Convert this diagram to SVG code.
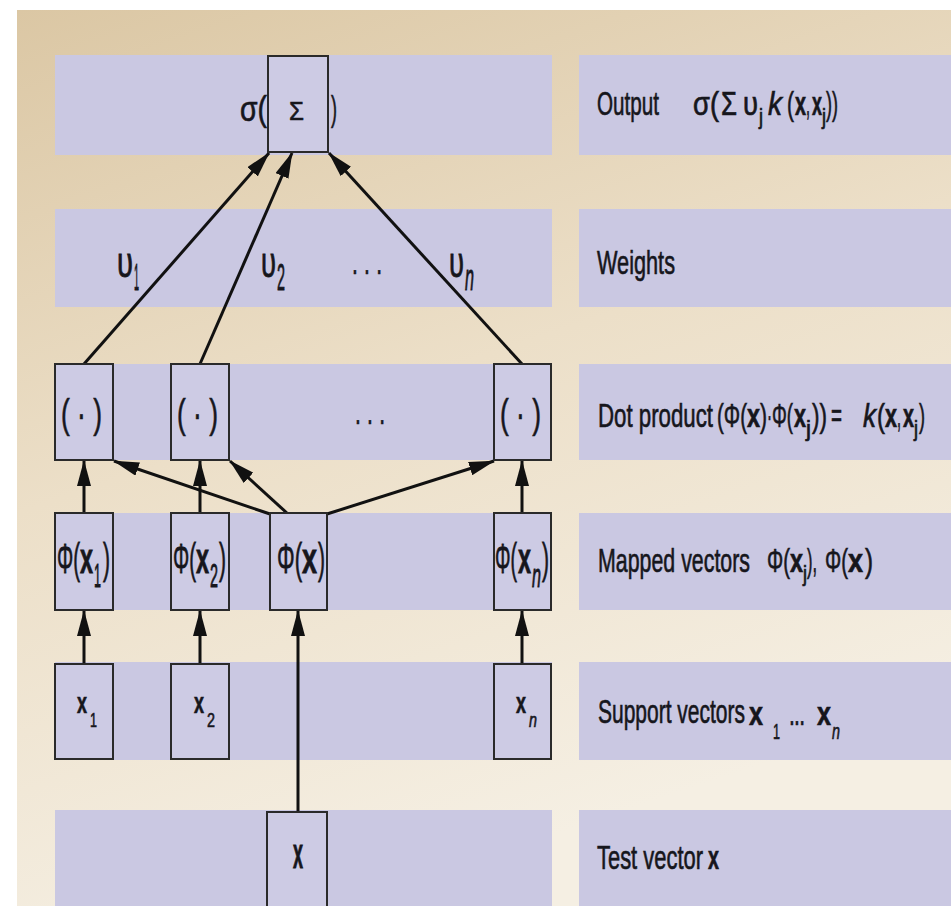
<svg xmlns="http://www.w3.org/2000/svg" width="951" height="906" viewBox="0 0 951 906">
<defs>
<linearGradient id="bg" x1="0" y1="0" x2="0.35" y2="1">
<stop offset="0" stop-color="#dbc7a4"/>
<stop offset="0.5" stop-color="#ecdfc8"/>
<stop offset="1" stop-color="#f5efe3"/>
</linearGradient>
<marker id="ah" markerWidth="26" markerHeight="14" refX="25" refY="7" orient="auto" markerUnits="userSpaceOnUse">
<path d="M0,0 L26,7 L0,14 z" fill="#111"/>
</marker>
<style>
.band{fill:#cac8e2}
.box{fill:#cdcbe4;stroke:#2a2a2a;stroke-width:2}
.t text{font-family:"Liberation Sans",Arial,sans-serif;fill:#16161c;stroke:#16161c;stroke-width:0.4}
.c line{stroke:#111;stroke-width:3;marker-end:url(#ah)}
.b{font-weight:bold}
.i{font-style:italic}
</style>
</defs>
<rect x="0" y="0" width="951" height="906" fill="#ffffff"/>
<rect x="17" y="10" width="934" height="896" fill="url(#bg)"/>
<g id="bands">
<rect class="band" x="55" y="55" width="497" height="100"/>
<rect class="band" x="55" y="209" width="497" height="98"/>
<rect class="band" x="55" y="364" width="497" height="96"/>
<rect class="band" x="55" y="513" width="497" height="97"/>
<rect class="band" x="55" y="662" width="497" height="98"/>
<rect class="band" x="55" y="810" width="497" height="96"/>
<rect class="band" x="579" y="55" width="372" height="100"/>
<rect class="band" x="579" y="209" width="372" height="98"/>
<rect class="band" x="579" y="364" width="372" height="96"/>
<rect class="band" x="579" y="513" width="372" height="97"/>
<rect class="band" x="579" y="662" width="372" height="98"/>
<rect class="band" x="579" y="810" width="372" height="96"/>
</g>
<g id="row-labels" class="t">
<text x="597" y="115" font-size="21" transform="matrix(1 0 0 1.6 0 -69)" textLength="62" lengthAdjust="spacingAndGlyphs">Output</text>
<text x="693" y="115" font-size="19" transform="matrix(1 0 0 1.75 0 -86.25)" textLength="26" lengthAdjust="spacingAndGlyphs">σ(</text>
<text x="721" y="115" font-size="19" transform="matrix(1 0 0 1.75 0 -86.25)" textLength="16" lengthAdjust="spacingAndGlyphs">Σ</text>
<text x="743" y="115" font-size="19" transform="matrix(1 0 0 1.75 0 -86.25)" textLength="15" lengthAdjust="spacingAndGlyphs">υ</text>
<text x="759" y="124" font-size="13" transform="matrix(1 0 0 1.75 0 -93)" textLength="4" lengthAdjust="spacingAndGlyphs">j</text>
<text x="768" y="115" font-size="19" class="i" transform="matrix(1 0 0 1.75 0 -86.25)" textLength="14" lengthAdjust="spacingAndGlyphs">k</text>
<text x="787" y="115" font-size="19" transform="matrix(1 0 0 1.75 0 -86.25)" textLength="7" lengthAdjust="spacingAndGlyphs">(</text>
<text x="795" y="115" font-size="19" class="b" transform="matrix(1 0 0 1.75 0 -86.25)" textLength="11" lengthAdjust="spacingAndGlyphs">x</text>
<text x="806" y="115" font-size="19" transform="matrix(1 0 0 1.75 0 -86.25)" textLength="4" lengthAdjust="spacingAndGlyphs">,</text>
<text x="812" y="115" font-size="19" class="b" transform="matrix(1 0 0 1.75 0 -86.25)" textLength="10" lengthAdjust="spacingAndGlyphs">x</text>
<text x="822" y="124" font-size="13" transform="matrix(1 0 0 1.75 0 -93)" textLength="4" lengthAdjust="spacingAndGlyphs">j</text>
<text x="826" y="115" font-size="19" transform="matrix(1 0 0 1.75 0 -86.25)" textLength="12" lengthAdjust="spacingAndGlyphs">))</text>

<text x="597" y="274" font-size="21" transform="matrix(1 0 0 1.6 0 -164.4)" textLength="78" lengthAdjust="spacingAndGlyphs">Weights</text>

<text x="598" y="427" font-size="21" transform="matrix(1 0 0 1.6 0 -256.2)" textLength="115" lengthAdjust="spacingAndGlyphs">Dot product</text>
<text x="717" y="427" font-size="19" transform="matrix(1 0 0 1.75 0 -320.25)" textLength="30" lengthAdjust="spacingAndGlyphs">(Φ(</text>
<text x="747" y="427" font-size="19" class="b" transform="matrix(1 0 0 1.75 0 -320.25)" textLength="13" lengthAdjust="spacingAndGlyphs">x</text>
<text x="760" y="427" font-size="19" transform="matrix(1 0 0 1.75 0 -320.25)" textLength="7" lengthAdjust="spacingAndGlyphs">)</text>
<text x="767" y="427" font-size="19" transform="matrix(1 0 0 1.75 0 -320.25)" textLength="5" lengthAdjust="spacingAndGlyphs">·</text>
<text x="772" y="427" font-size="19" transform="matrix(1 0 0 1.75 0 -320.25)" textLength="21" lengthAdjust="spacingAndGlyphs">Φ(</text>
<text x="794" y="427" font-size="19" class="b" transform="matrix(1 0 0 1.75 0 -320.25)" textLength="12" lengthAdjust="spacingAndGlyphs">x</text>
<text x="806" y="436" font-size="13" transform="matrix(1 0 0 1.75 0 -327)" textLength="5" lengthAdjust="spacingAndGlyphs">j</text>
<text x="812" y="427" font-size="19" transform="matrix(1 0 0 1.75 0 -320.25)" textLength="15" lengthAdjust="spacingAndGlyphs">))</text>
<text x="831" y="427" font-size="19" transform="matrix(1 0 0 1.75 0 -320.25)" textLength="11" lengthAdjust="spacingAndGlyphs">=</text>
<text x="863" y="427" font-size="19" class="i" transform="matrix(1 0 0 1.75 0 -320.25)" textLength="13" lengthAdjust="spacingAndGlyphs">k</text>
<text x="877" y="427" font-size="19" transform="matrix(1 0 0 1.75 0 -320.25)" textLength="8" lengthAdjust="spacingAndGlyphs">(</text>
<text x="885" y="427" font-size="19" class="b" transform="matrix(1 0 0 1.75 0 -320.25)" textLength="12" lengthAdjust="spacingAndGlyphs">x</text>
<text x="897" y="427" font-size="19" transform="matrix(1 0 0 1.75 0 -320.25)" textLength="4" lengthAdjust="spacingAndGlyphs">,</text>
<text x="903" y="427" font-size="19" class="b" transform="matrix(1 0 0 1.75 0 -320.25)" textLength="11" lengthAdjust="spacingAndGlyphs">x</text>
<text x="914" y="436" font-size="13" transform="matrix(1 0 0 1.75 0 -327)" textLength="4" lengthAdjust="spacingAndGlyphs">j</text>
<text x="919" y="427" font-size="19" transform="matrix(1 0 0 1.75 0 -320.25)" textLength="6" lengthAdjust="spacingAndGlyphs">)</text>

<text x="598" y="572" font-size="21" transform="matrix(1 0 0 1.6 0 -343.2)" textLength="152" lengthAdjust="spacingAndGlyphs">Mapped vectors</text>
<text x="767" y="572" font-size="19" transform="matrix(1 0 0 1.75 0 -429)" textLength="23" lengthAdjust="spacingAndGlyphs">Φ(</text>
<text x="790" y="572" font-size="19" class="b" transform="matrix(1 0 0 1.75 0 -429)" textLength="13" lengthAdjust="spacingAndGlyphs">x</text>
<text x="803" y="581" font-size="13" transform="matrix(1 0 0 1.75 0 -435.75)" textLength="4" lengthAdjust="spacingAndGlyphs">j</text>
<text x="807" y="572" font-size="19" transform="matrix(1 0 0 1.75 0 -429)" textLength="10" lengthAdjust="spacingAndGlyphs">),</text>
<text x="825" y="572" font-size="19" transform="matrix(1 0 0 1.75 0 -429)" textLength="23" lengthAdjust="spacingAndGlyphs">Φ(</text>
<text x="848" y="572" font-size="19" class="b" transform="matrix(1 0 0 1.75 0 -429)" textLength="15" lengthAdjust="spacingAndGlyphs">x</text>
<text x="865" y="572" font-size="19" transform="matrix(1 0 0 1.75 0 -429)" textLength="8" lengthAdjust="spacingAndGlyphs">)</text>

<text x="598" y="723" font-size="21" transform="matrix(1 0 0 1.6 0 -433.8)" textLength="147" lengthAdjust="spacingAndGlyphs">Support vectors</text>
<text x="749" y="725" font-size="21" class="b" transform="matrix(1 0 0 1.6 0 -435)" textLength="14" lengthAdjust="spacingAndGlyphs">x</text>
<text x="773" y="739" font-size="14" transform="matrix(1 0 0 1.6 0 -443.4)" textLength="7" lengthAdjust="spacingAndGlyphs">1</text>
<text x="789" y="725" font-size="21" transform="matrix(1 0 0 1.6 0 -435)" textLength="16" lengthAdjust="spacing">...</text>
<text x="817" y="725" font-size="21" class="b" transform="matrix(1 0 0 1.6 0 -435)" textLength="14" lengthAdjust="spacingAndGlyphs">x</text>
<text x="832" y="739" font-size="14" class="i" transform="matrix(1 0 0 1.6 0 -443.4)" textLength="8" lengthAdjust="spacingAndGlyphs">n</text>

<text x="597" y="869" font-size="21" transform="matrix(1 0 0 1.6 0 -521.4)" textLength="106" lengthAdjust="spacingAndGlyphs">Test vector</text>
<text x="708" y="869" font-size="21" class="b" transform="matrix(1 0 0 1.6 0 -521.4)" textLength="11" lengthAdjust="spacingAndGlyphs">x</text>
</g>
<g id="connectors" class="c">
<line x1="84" y1="364" x2="269" y2="153"/>
<line x1="200" y1="364" x2="292" y2="153"/>
<line x1="522" y1="364" x2="329" y2="153"/>
<line x1="84" y1="513" x2="84" y2="461"/>
<line x1="200" y1="513" x2="200" y2="461"/>
<line x1="522" y1="513" x2="522" y2="461"/>
<line x1="84" y1="664" x2="84" y2="611"/>
<line x1="200" y1="664" x2="200" y2="611"/>
<line x1="522" y1="664" x2="522" y2="611"/>
<line x1="298" y1="812" x2="298" y2="611"/>
<line x1="270" y1="514" x2="114" y2="461"/>
<line x1="288" y1="514" x2="230" y2="461"/>
<line x1="327" y1="514" x2="494" y2="461"/>
</g>
<g id="weight-labels" class="t">
<text x="117" y="277" font-size="21" transform="matrix(1 0 0 2 0 -277)" textLength="16" lengthAdjust="spacingAndGlyphs">υ</text>
<text x="134" y="290" font-size="17" transform="matrix(1 0 0 2.2 0 -348)" textLength="5" lengthAdjust="spacingAndGlyphs">1</text>
<text x="261" y="277" font-size="21" transform="matrix(1 0 0 2 0 -277)" textLength="15" lengthAdjust="spacingAndGlyphs">υ</text>
<text x="277" y="290" font-size="17" transform="matrix(1 0 0 2.2 0 -348)" textLength="8" lengthAdjust="spacingAndGlyphs">2</text>
<text x="352" y="274" font-size="21" transform="matrix(1 0 0 1.6 0 -164.4)" textLength="30" lengthAdjust="spacing">...</text>
<text x="449" y="277" font-size="21" transform="matrix(1 0 0 2 0 -277)" textLength="15" lengthAdjust="spacingAndGlyphs">υ</text>
<text x="465" y="290" font-size="17" class="i" transform="matrix(1 0 0 2.2 0 -348)" textLength="9" lengthAdjust="spacingAndGlyphs">n</text>
<text x="355" y="424" font-size="21" transform="matrix(1 0 0 1.6 0 -254.4)" textLength="30" lengthAdjust="spacing">...</text>
</g>
<g id="sum" class="t">
<rect class="box" x="268" y="56" width="60" height="96"/>
<text x="240" y="121" font-size="21" transform="matrix(1 0 0 1.7 0 -84.7)" textLength="27" lengthAdjust="spacingAndGlyphs">σ(</text>
<text x="289" y="120" font-size="18" transform="matrix(1 0 0 1.4 0 -48)" textLength="15" lengthAdjust="spacingAndGlyphs">Σ</text>
<text x="331" y="121" font-size="21" transform="matrix(1 0 0 1.7 0 -84.7)" textLength="6" lengthAdjust="spacingAndGlyphs">)</text>
</g>
<g id="dot1" class="t">
<rect class="box" x="55" y="364" width="58" height="96"/>
<text x="61" y="428" font-size="25" transform="matrix(1 0 0 1.6 0 -256.8)" textLength="41" lengthAdjust="spacingAndGlyphs">( · )</text>
</g>
<g id="dot2" class="t">
<rect class="box" x="171" y="364" width="58" height="96"/>
<text x="177" y="428" font-size="25" transform="matrix(1 0 0 1.6 0 -256.8)" textLength="41" lengthAdjust="spacingAndGlyphs">( · )</text>
</g>
<g id="dotn" class="t">
<rect class="box" x="494" y="364" width="57" height="96"/>
<text x="500" y="428" font-size="25" transform="matrix(1 0 0 1.6 0 -256.8)" textLength="41" lengthAdjust="spacingAndGlyphs">( · )</text>
</g>
<g id="phi1" class="t">
<rect class="box" x="55" y="513" width="58" height="97"/>
<text x="57" y="573" font-size="21" transform="matrix(1 0 0 2 0 -573)" textLength="23" lengthAdjust="spacingAndGlyphs">Φ(</text>
<text x="80" y="573" font-size="21" class="b" transform="matrix(1 0 0 2 0 -573)" textLength="13" lengthAdjust="spacingAndGlyphs">x</text>
<text x="94" y="587" font-size="15" transform="matrix(1 0 0 2.2 0 -704.4)" textLength="7" lengthAdjust="spacingAndGlyphs">1</text>
<text x="103" y="573" font-size="21" transform="matrix(1 0 0 2 0 -573)" textLength="7" lengthAdjust="spacingAndGlyphs">)</text>
</g>
<g id="phi2" class="t">
<rect class="box" x="171" y="513" width="58" height="97"/>
<text x="173" y="573" font-size="21" transform="matrix(1 0 0 2 0 -573)" textLength="23" lengthAdjust="spacingAndGlyphs">Φ(</text>
<text x="196" y="573" font-size="21" class="b" transform="matrix(1 0 0 2 0 -573)" textLength="13" lengthAdjust="spacingAndGlyphs">x</text>
<text x="210" y="587" font-size="15" transform="matrix(1 0 0 2.2 0 -704.4)" textLength="8" lengthAdjust="spacingAndGlyphs">2</text>
<text x="219" y="573" font-size="21" transform="matrix(1 0 0 2 0 -573)" textLength="7" lengthAdjust="spacingAndGlyphs">)</text>
</g>
<g id="phix" class="t">
<rect class="box" x="270" y="513" width="57" height="97"/>
<text x="277" y="573" font-size="21" transform="matrix(1 0 0 2 0 -573)" textLength="25" lengthAdjust="spacingAndGlyphs">Φ(</text>
<text x="302" y="573" font-size="21" class="b" transform="matrix(1 0 0 2 0 -573)" textLength="15" lengthAdjust="spacingAndGlyphs">x</text>
<text x="318" y="573" font-size="21" transform="matrix(1 0 0 2 0 -573)" textLength="7" lengthAdjust="spacingAndGlyphs">)</text>
</g>
<g id="phin" class="t">
<rect class="box" x="494" y="513" width="57" height="97"/>
<text x="495" y="573" font-size="21" transform="matrix(1 0 0 2 0 -573)" textLength="22" lengthAdjust="spacingAndGlyphs">Φ(</text>
<text x="518" y="573" font-size="21" class="b" transform="matrix(1 0 0 2 0 -573)" textLength="13" lengthAdjust="spacingAndGlyphs">x</text>
<text x="532" y="587" font-size="15" class="i" transform="matrix(1 0 0 2.2 0 -704.4)" textLength="9" lengthAdjust="spacingAndGlyphs">n</text>
<text x="542" y="573" font-size="21" transform="matrix(1 0 0 2 0 -573)" textLength="7" lengthAdjust="spacingAndGlyphs">)</text>
</g>
<g id="x1" class="t">
<rect class="box" x="55" y="664" width="58" height="95"/>
<text x="77" y="713" font-size="18" class="b" transform="matrix(1 0 0 1.6 0 -427.8)" textLength="10" lengthAdjust="spacingAndGlyphs">x</text>
<text x="90" y="727" font-size="13" transform="matrix(1 0 0 1.6 0 -436.2)" textLength="7" lengthAdjust="spacingAndGlyphs">1</text>
</g>
<g id="x2" class="t">
<rect class="box" x="171" y="664" width="58" height="95"/>
<text x="194" y="713" font-size="18" class="b" transform="matrix(1 0 0 1.6 0 -427.8)" textLength="10" lengthAdjust="spacingAndGlyphs">x</text>
<text x="207" y="727" font-size="13" transform="matrix(1 0 0 1.6 0 -436.2)" textLength="8" lengthAdjust="spacingAndGlyphs">2</text>
</g>
<g id="xn" class="t">
<rect class="box" x="494" y="664" width="57" height="95"/>
<text x="516" y="713" font-size="18" class="b" transform="matrix(1 0 0 1.6 0 -427.8)" textLength="10" lengthAdjust="spacingAndGlyphs">x</text>
<text x="529" y="727" font-size="13" class="i" transform="matrix(1 0 0 1.6 0 -436.2)" textLength="8" lengthAdjust="spacingAndGlyphs">n</text>
</g>
<g id="xtest" class="t">
<rect class="box" x="267" y="812" width="60" height="100"/>
<text x="293" y="868" font-size="18" class="b" transform="matrix(1 0 0 2.4 0 -1215.2)" textLength="10" lengthAdjust="spacingAndGlyphs">x</text>
</g>
</svg>
